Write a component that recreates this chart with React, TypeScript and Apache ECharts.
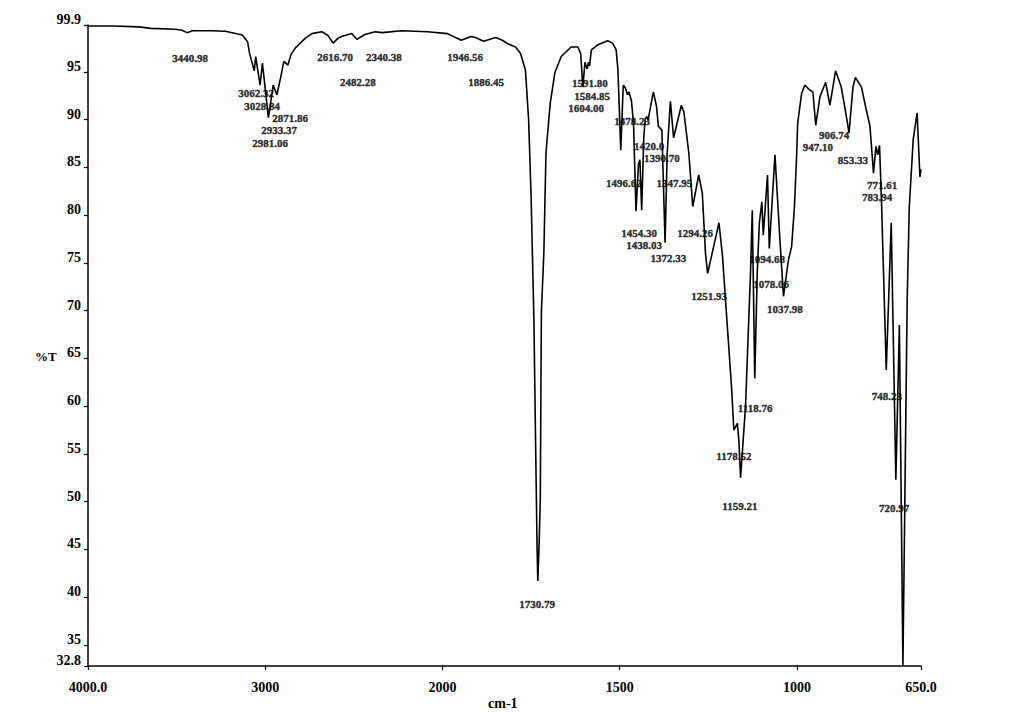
import React, { useEffect, useRef } from "react";
import * as echarts from "echarts";

// IR spectrum: wavenumber (cm-1) vs. transmittance (%T)
const wavenumbers = [
  4000, 3850, 3713, 3646, 3506, 3470, 3441, 3410, 3300, 3225, 3129, 3100, 3088,
  3062, 3054, 3029, 3016, 2982, 2955, 2934, 2912, 2895, 2872, 2855, 2830, 2775,
  2737, 2681, 2646, 2617, 2590, 2569, 2512, 2483, 2438, 2380, 2340, 2231, 2084,
  1986, 1947, 1920, 1907, 1884, 1850, 1831, 1814, 1794, 1780, 1766, 1757, 1750,
  1742, 1737, 1733, 1731, 1727, 1724, 1721, 1714, 1708, 1696, 1683, 1665, 1637,
  1618, 1610, 1604, 1598, 1592, 1588, 1585, 1580, 1563, 1534, 1520, 1510, 1505,
  1497, 1490, 1484, 1478, 1474, 1467, 1461, 1454, 1447, 1443, 1438, 1432, 1428,
  1423, 1420, 1405, 1396, 1391, 1381, 1372, 1366, 1357, 1348, 1326, 1319, 1305,
  1294, 1277, 1267, 1258, 1252, 1235, 1220, 1210, 1197, 1184, 1178, 1168, 1164,
  1159, 1145, 1138, 1131, 1126, 1119, 1112, 1106, 1099, 1095, 1083, 1078, 1062,
  1048, 1038, 1024, 1015, 1007, 1001, 998, 987, 978, 964, 955, 947, 935, 919,
  907, 891, 875, 865, 853, 842, 835, 818, 806, 794, 784, 777, 772, 767, 761,
  748, 734, 721, 711, 701, 689, 683, 672, 661, 653, 650,
];

const transmittance = [
  99.8, 99.8, 99.7, 99.55, 99.45, 99.35, 99.1, 99.3, 99.3, 99.25, 98.85, 98.15, 96.9,
  95.1, 96.6, 93.6, 95.9, 90.2, 93.6, 92.6, 94.5, 96.1, 95.7, 96.8, 97.5, 98.5,
  99.0, 99.2, 98.8, 98.0, 98.5, 98.7, 99.0, 98.4, 98.9, 99.2, 99.1, 99.3, 99.2,
  99.0, 98.3, 98.7, 98.6, 98.2, 98.6, 98.3, 97.9, 97.6, 96.95, 95.2, 90.0, 82.0,
  69.0, 55.4, 45.0, 41.7, 46.0, 50.2, 69.8, 76.0, 86.5, 91.7, 94.9, 96.6, 97.6,
  97.6, 96.9, 93.4, 96.0, 95.3, 96.0, 95.6, 97.3, 97.8, 98.25, 98.0, 97.3, 95.2,
  86.8, 93.6, 93.3, 92.6, 92.9, 92.0, 89.6, 80.4, 85.4, 85.8, 80.5, 88.2, 90.1,
  90.3, 89.95, 92.9, 91.35, 89.3, 88.9, 77.1, 86.5, 91.9, 88.1, 91.5, 90.8, 86.5,
  80.9, 84.2, 82.3, 76.0, 73.9, 76.7, 79.2, 75.7, 68.7, 61.7, 57.5, 58.2, 56.5,
  52.5, 60.0, 67.0, 73.9, 80.5, 62.9, 73.9, 79.2, 81.4, 77.9, 84.2, 76.5, 86.3,
  77.4, 71.5, 75.3, 76.7, 80.9, 86.1, 89.6, 92.7, 93.6, 93.1, 92.9, 89.4, 92.4, 93.9,
  91.5, 95.1, 93.4, 91.3, 88.6, 93.4, 94.4, 93.4, 91.3, 89.3, 84.4, 87.2, 86.3, 87.3, 80.9,
  63.8, 79.2, 52.3, 68.5, 32.8, 71.1, 80.9, 87.9, 90.7, 84.0, 84.8,
];

// Peak annotations and where each annotation text is centred (wavenumber, %T)
const peakLabels = [
  "3440.98", "3062.32", "3028.84", "2871.86", "2933.37", "2981.06", "2616.70",
  "2340.38", "2482.28", "1946.56", "1886.45", "1591.80", "1584.85", "1604.00",
  "1478.23", "1420.0", "1390.70", "1496.62", "1347.95", "1454.30", "1438.03",
  "1372.33", "1294.26", "1251.93", "1094.68", "1078.06", "1037.98", "1118.76",
  "1178.52", "1159.21", "1730.79", "906.74", "947.10", "853.33", "771.61",
  "783.94", "748.23", "720.97",
];
const labelAnchorWavenumber = [
  3424, 3052, 3018, 2860, 2922, 2973, 2606, 2330, 2477, 1936, 1877, 1584, 1578,
  1595, 1465, 1417, 1381, 1488, 1346, 1445, 1431, 1363, 1287, 1248, 1084, 1073,
  1034, 1118, 1178, 1161, 1733, 895, 941, 842, 760, 774, 746, 726,
];
const labelAnchorT = [
  96.45, 92.78, 91.42, 90.17, 88.91, 87.55, 96.55, 96.55, 93.93, 96.55, 93.93,
  93.83, 92.47, 91.21, 89.85, 87.23, 85.98, 83.36, 83.36, 78.13, 76.87, 75.51,
  78.13, 71.53, 75.41, 72.79, 70.17, 59.81, 54.78, 49.55, 39.29, 88.39, 87.13,
  85.77, 83.15, 81.89, 61.06, 49.34,
];

const xTickWavenumbers = [4000, 3000, 2000, 1500, 1000, 650];
const xTickLabels = ["4000.0", "3000", "2000", "1500", "1000", "650.0"];
const yTickValues = [32.8, 35, 40, 45, 50, 55, 60, 65, 70, 75, 80, 85, 90, 95, 99.9];
const yTickLabels = ["32.8", "35", "40", "45", "50", "55", "60", "65", "70", "75", "80", "85", "90", "95", "99.9"];

// The wavenumber scale is expanded twofold below 2000 cm-1.
const SCALE_BREAK = 2000;
function toAxis(w: number): number {
  return w >= SCALE_BREAK ? 4000 - w : (4000 - SCALE_BREAK) + 2 * (SCALE_BREAK - w);
}

const FONT = "'Liberation Serif', 'Times New Roman', serif";

export default function App() {
  const ref = useRef<HTMLDivElement>(null);

  useEffect(() => {
    document.body.style.margin = "0";
    if (!ref.current) return;
    const chart = echarts.init(ref.current, null, { renderer: "svg" });

    const xTickPositions = xTickWavenumbers.map(toAxis);
    const spectrum = wavenumbers.map((w, i) => [toAxis(w), transmittance[i]]);
    const annotations = peakLabels.map((name, i) => ({
      name,
      value: [toAxis(labelAnchorWavenumber[i]), labelAnchorT[i]],
    }));

    chart.setOption({
      animation: false,
      backgroundColor: "#ffffff",
      grid: { left: 88, right: 103, top: 25, bottom: 46, containLabel: false, outerBoundsMode: "none" },
      xAxis: {
        type: "value",
        min: toAxis(4000),
        max: toAxis(650),
        axisLine: { show: true, onZero: false, lineStyle: { color: "#000", width: 1.5 } },
        axisTick: { show: true, inside: false, length: 4, customValues: xTickPositions, lineStyle: { color: "#000", width: 1.2 } },
        axisLabel: {
          customValues: xTickPositions,
          margin: 14,
          color: "#000",
          fontFamily: FONT,
          fontWeight: "bold",
          fontSize: 14,
          formatter: (v: number) => {
            const idx = xTickPositions.findIndex((p) => Math.abs(p - v) < 1e-6);
            return idx >= 0 ? xTickLabels[idx] : "";
          },
        },
        splitLine: { show: false },
      },
      yAxis: {
        type: "value",
        min: 32.8,
        max: 99.9,
        axisLine: { show: true, onZero: false, lineStyle: { color: "#000", width: 1.5 } },
        axisTick: { show: true, inside: false, length: 4, customValues: yTickValues, lineStyle: { color: "#000", width: 1.2 } },
        axisLabel: {
          customValues: yTickValues,
          margin: 7,
          color: "#000",
          fontFamily: FONT,
          fontWeight: "bold",
          fontSize: 14,
          verticalAlign: "bottom",
          lineHeight: 11,
          formatter: (v: number) => {
            const idx = yTickValues.findIndex((p) => Math.abs(p - v) < 1e-6);
            return idx >= 0 ? yTickLabels[idx] : "";
          },
        },
        splitLine: { show: false },
      },
      graphic: [
        {
          type: "text",
          left: 35,
          top: 350,
          style: { text: "%T", fill: "#000", font: `bold 13px ${FONT}` },
        },
        {
          type: "text",
          left: 488,
          top: 696,
          style: { text: "cm-1", fill: "#000", font: `bold 14px ${FONT}` },
        },
      ],
      series: [
        {
          type: "line",
          data: spectrum,
          showSymbol: false,
          smooth: false,
          lineStyle: { color: "#000", width: 1.6 },
          z: 3,
        },
        {
          type: "scatter",
          data: annotations,
          symbolSize: 1,
          itemStyle: { color: "rgba(0,0,0,0)" },
          silent: true,
          z: 4,
          label: {
            show: true,
            position: "inside",
            formatter: "{b}",
            color: "#000",
            fontFamily: FONT,
            fontWeight: "bold",
            fontSize: 11,
            textBorderColor: "#000",
            textBorderWidth: 0.4,
          },
        },
      ],
    });

    return () => chart.dispose();
  }, []);

  return <div ref={ref} style={{ width: 1024, height: 712 }} />;
}
